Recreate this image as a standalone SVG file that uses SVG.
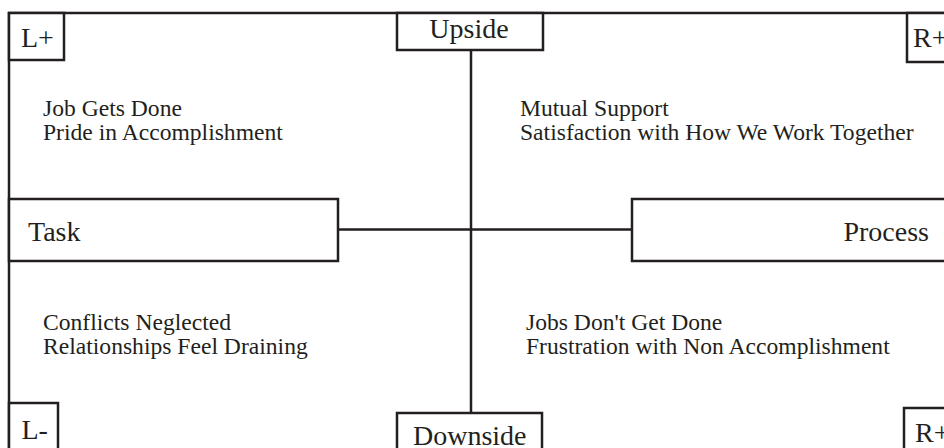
<svg xmlns="http://www.w3.org/2000/svg" width="944" height="448" viewBox="0 0 944 448">
<style>
.box{fill:#fff;stroke:#231f20;stroke-width:2.5}
.ln{fill:none;stroke:#231f20;stroke-width:2.5}
.lbl{font-family:"Liberation Serif","Times New Roman",serif;font-size:28px;fill:#231f20}
.txt{font-family:"Liberation Serif","Times New Roman",serif;font-size:23.6px;fill:#231f20}
</style>
<rect width="944" height="448" fill="#fff"/>
<g id="frame"><rect class="ln" x="9" y="13" width="980" height="480"/></g>
<g id="connectors">
<line class="ln" x1="471" y1="50" x2="471" y2="413"/>
<line class="ln" x1="338" y1="229.5" x2="632" y2="229.5"/>
</g>
<g id="lplus"><rect class="box" x="9" y="13" width="55" height="47"/><text class="lbl" x="21" y="47">L+</text></g>
<g id="upside"><rect class="box" x="397" y="13" width="146" height="37"/><text class="lbl" x="469" y="38" text-anchor="middle">Upside</text></g>
<g id="rplus-top"><rect class="box" x="907" y="13" width="60" height="49"/><text class="lbl" x="913" y="47">R+</text></g>
<g id="task"><rect class="box" x="9" y="199" width="329" height="62"/><text class="lbl" x="28" y="241">Task</text></g>
<g id="process"><rect class="box" x="632" y="199" width="330" height="62"/><text class="lbl" x="929" y="241" text-anchor="end">Process</text></g>
<g id="lminus"><rect class="box" x="9" y="403" width="49" height="60"/><text class="lbl" x="21.5" y="439">L-</text></g>
<g id="downside"><rect class="box" x="397" y="413" width="145" height="50"/><text class="lbl" x="413" y="445">Downside</text></g>
<g id="rplus-bottom"><rect class="box" x="904" y="408" width="60" height="60"/><text class="lbl" x="915" y="442">R+</text></g>
<g id="q-tl"><text class="txt" x="43" y="116">Job Gets Done</text><text class="txt" x="43" y="140">Pride in Accomplishment</text></g>
<g id="q-tr"><text class="txt" x="520" y="116">Mutual Support</text><text class="txt" x="520" y="140">Satisfaction with How We Work Together</text></g>
<g id="q-bl"><text class="txt" x="43" y="330">Conflicts Neglected</text><text class="txt" x="43" y="354">Relationships Feel Draining</text></g>
<g id="q-br"><text class="txt" x="526" y="330">Jobs Don't Get Done</text><text class="txt" x="526" y="354">Frustration with Non Accomplishment</text></g>
</svg>
